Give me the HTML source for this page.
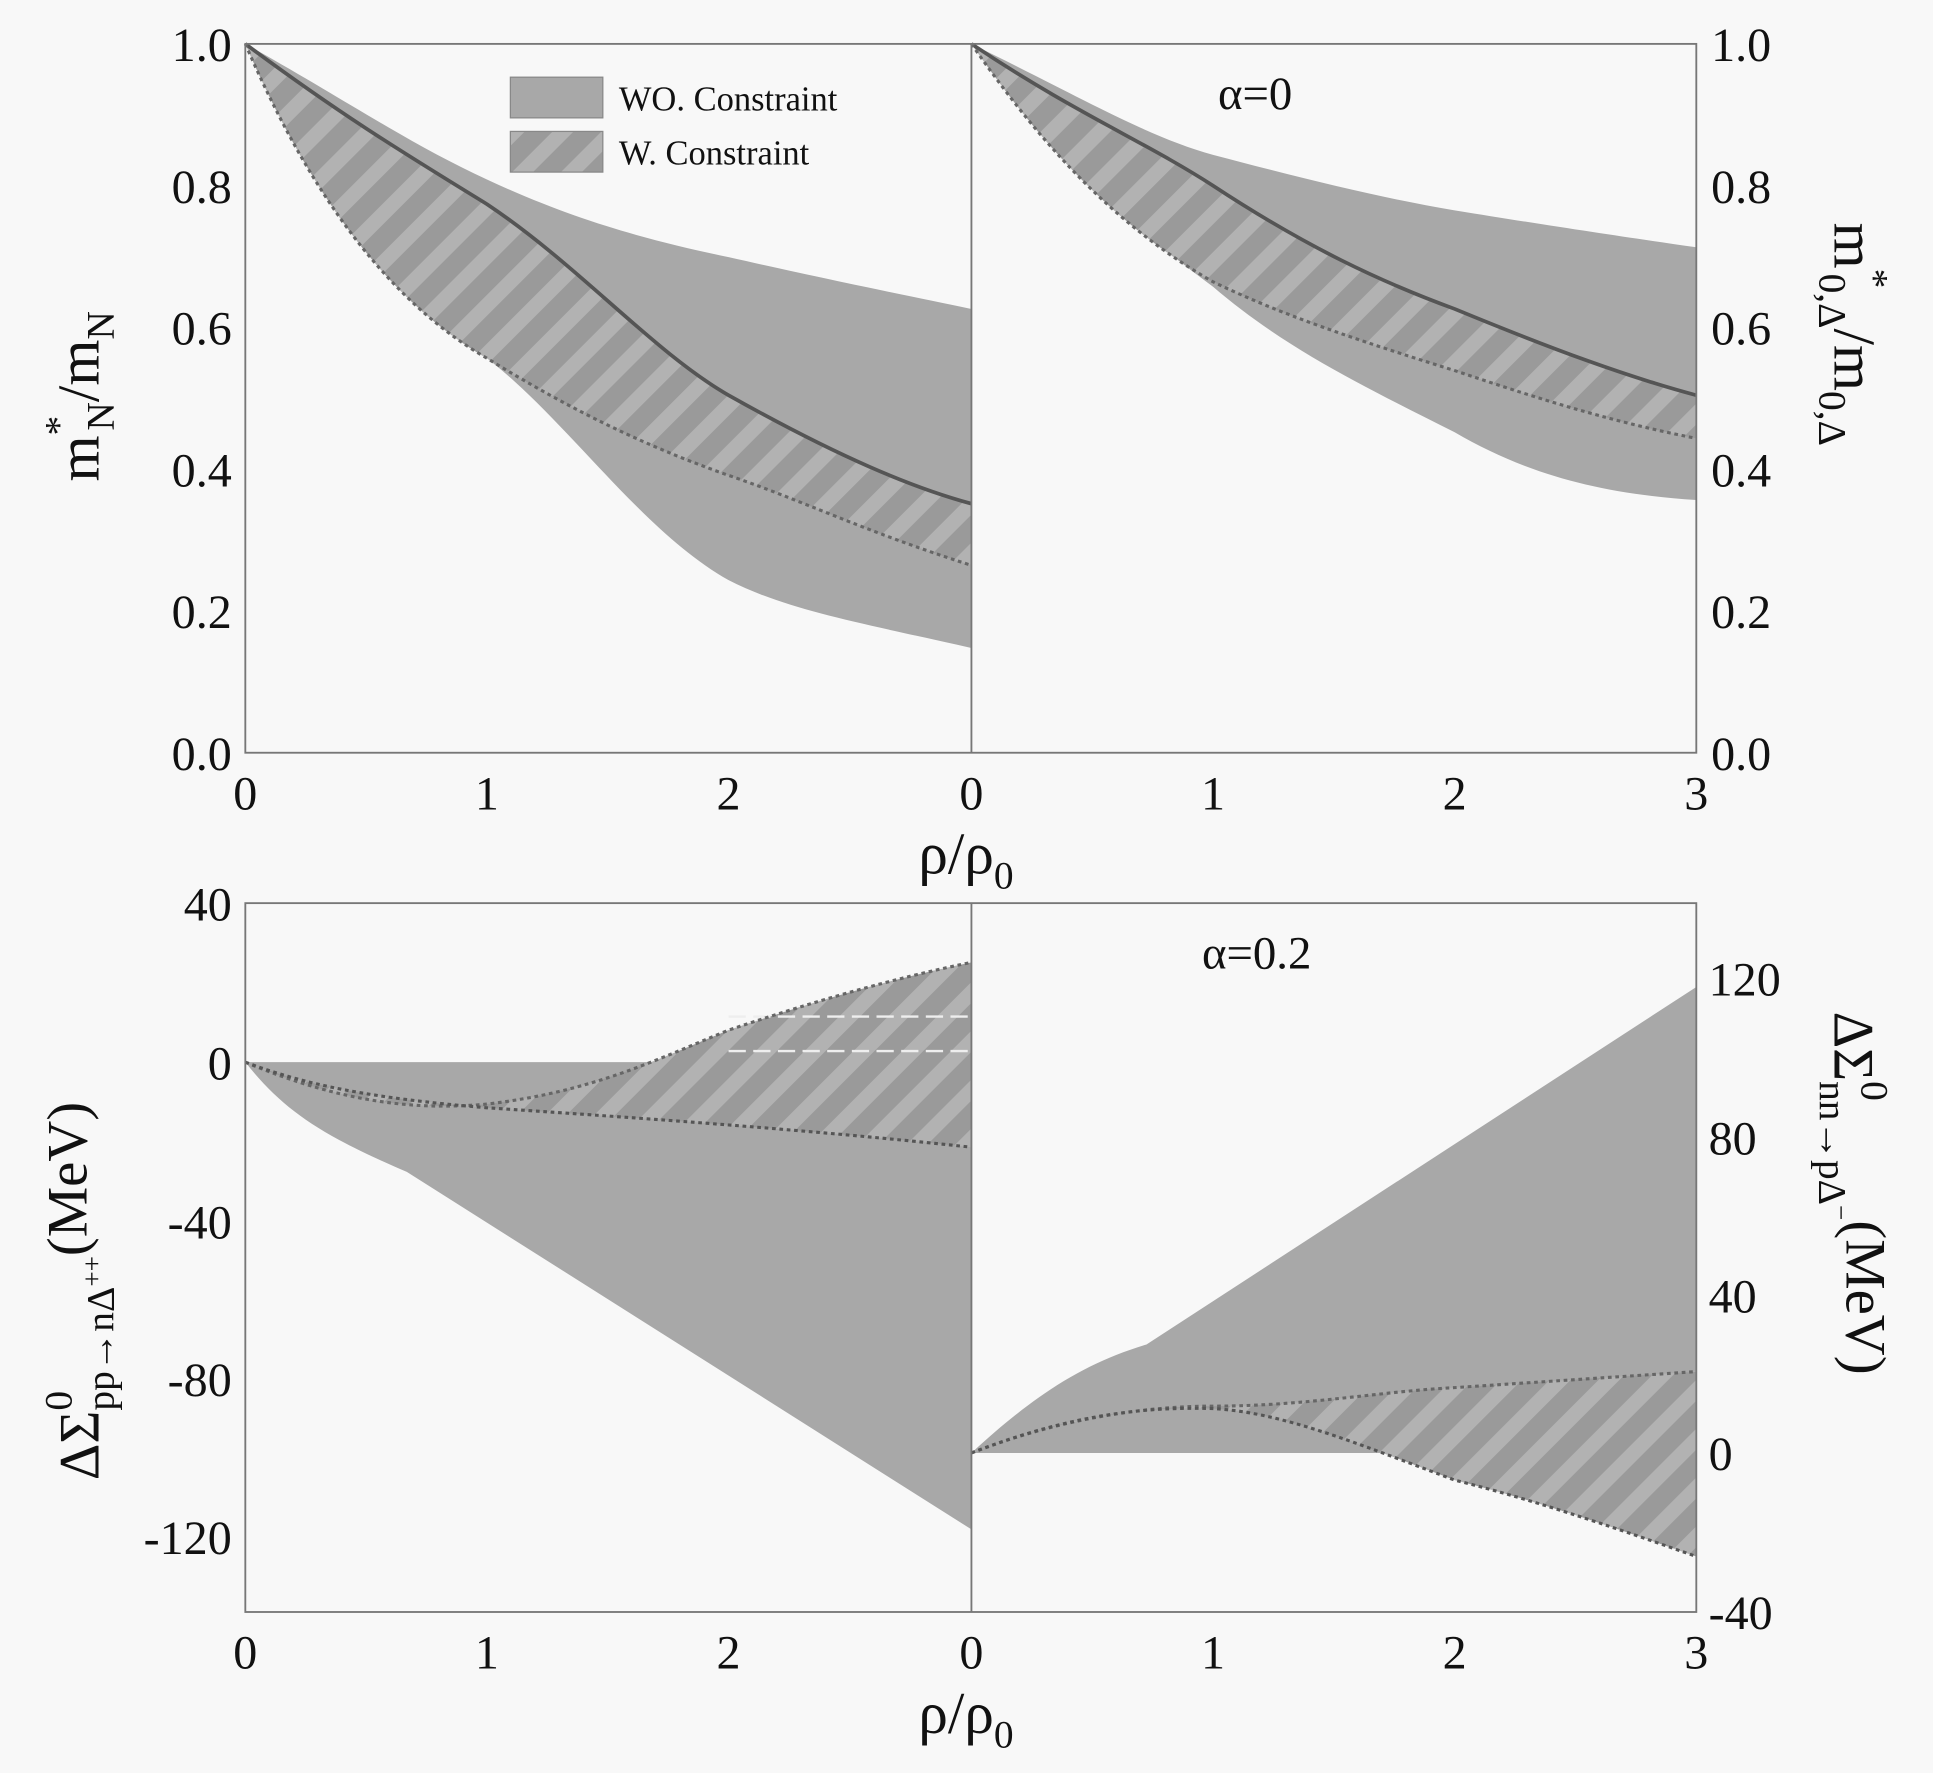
<!DOCTYPE html>
<html><head><meta charset="utf-8"><style>
html,body{margin:0;padding:0;background:#f8f8f8;}
svg{display:block;}
text{font-family:"Liberation Serif",serif;fill:#111;}
</style></head><body>
<svg width="1933" height="1773" viewBox="0 0 1568 1437" xmlns="http://www.w3.org/2000/svg">
<defs>
<pattern id="h" patternUnits="userSpaceOnUse" width="28" height="28" patternTransform="rotate(45)">
<rect width="28" height="28" fill="#9a9a9a"/>
<rect width="12" height="28" fill="#b2b2b2"/>
</pattern>
</defs>
<rect width="1568" height="1437" fill="#f8f8f8"/>

<!-- TOP LEFT -->
<path d="M199,35 C280,80 330,115 395,145 C470,180 530,195 591,208 C680,228 740,240 788,250 L788,525 C700,505 640,495 591,470 C520,430 460,340 395,290 C300,235 240,130 199,35Z" fill="#a8a8a8"/>
<path d="M199,35 C280,95 330,125 395,165 C470,215 530,285 591,320 C680,370 740,395 788,408 L788,458 C700,430 650,405 591,385 C520,360 460,330 395,290 C300,235 240,130 199,35Z" fill="url(#h)"/>
<path d="M199,35 C280,95 330,125 395,165 C470,215 530,285 591,320 C680,370 740,395 788,408" fill="none" stroke="#555" stroke-width="3"/>
<path d="M199,35 C240,130 300,235 395,290 C460,330 520,360 591,385 C650,405 700,430 788,458" fill="none" stroke="#666" stroke-width="2.5" stroke-dasharray="3,3"/>

<!-- TOP RIGHT -->
<path d="M788,35 C880,80 930,110 984,125 C1060,145 1120,160 1180,170 C1260,183 1320,192 1376,200 L1376,405 C1300,400 1240,385 1180,350 C1100,310 1040,280 984,232 C900,170 840,110 788,35Z" fill="#a8a8a8"/>
<path d="M788,35 C870,90 930,115 984,150 C1060,200 1120,228 1180,250 C1260,283 1320,305 1376,320 L1376,355 C1300,340 1240,320 1180,300 C1100,275 1040,255 984,228 C900,180 840,110 788,35Z" fill="url(#h)"/>
<path d="M788,35 C870,90 930,115 984,150 C1060,200 1120,228 1180,250 C1260,283 1320,305 1376,320" fill="none" stroke="#555" stroke-width="3"/>
<path d="M788,35 C840,110 900,180 984,228 C1040,255 1100,275 1180,300 C1240,320 1300,340 1376,355" fill="none" stroke="#666" stroke-width="2.5" stroke-dasharray="3,3"/>

<!-- BOTTOM LEFT -->
<path d="M199,861 L788,861 L788,1240 L330,950 C260,920 230,900 199,861Z" fill="#a8a8a8"/>
<path d="M199,861 C280,895 340,900 395,895 C480,885 530,860 591,835 C680,805 740,790 788,780 L788,930 C650,915 500,905 395,898 C300,890 250,880 199,861Z" fill="url(#h)"/>
<path d="M591,824 L788,824 M591,852 L788,852" stroke="#eee" stroke-width="2" stroke-dasharray="14,6"/>
<path d="M199,861 C280,895 340,900 395,895 C480,885 530,860 591,835 C680,805 740,790 788,780" fill="none" stroke="#666" stroke-width="2.5" stroke-dasharray="3,3"/>
<path d="M199,861 C250,880 300,890 395,898 C500,905 650,915 788,930" fill="none" stroke="#555" stroke-width="2.5" stroke-dasharray="3,3"/>

<!-- BOTTOM RIGHT -->
<path d="M788,1178 C840,1130 880,1105 930,1090 L1376,800 L1376,1112 L1180,1130 L1180,1178Z" fill="#a8a8a8"/>
<path d="M788,1178 C860,1150 930,1140 984,1140 C1060,1140 1120,1128 1180,1125 L1376,1112 L1376,1262 C1300,1235 1240,1215 1180,1200 C1100,1170 1040,1145 984,1142 C920,1140 860,1150 788,1178Z" fill="url(#h)"/>
<path d="M788,1178 C860,1150 930,1140 984,1140 C1060,1140 1120,1128 1180,1125 L1376,1112" fill="none" stroke="#666" stroke-width="2.5" stroke-dasharray="3,3"/>
<path d="M788,1178 C860,1150 920,1140 984,1142 C1040,1145 1100,1170 1180,1200 C1240,1215 1300,1235 1376,1262" fill="none" stroke="#555" stroke-width="2.5" stroke-dasharray="3,3"/>

<!-- frames -->
<g stroke="#777" stroke-width="1.5" fill="none">
<rect x="199" y="35" width="1177" height="575"/>
<line x1="788" y1="35" x2="788" y2="610"/>
<rect x="199" y="732" width="1177" height="575"/>
<line x1="788" y1="732" x2="788" y2="1307"/>
</g>

<!-- legend -->
<rect x="414" y="62" width="75" height="33" fill="#a8a8a8" stroke="#888"/>
<rect x="414" y="106" width="75" height="33" fill="url(#h)" stroke="#888"/>
<text x="502" y="89" font-size="28">WO. Constraint</text>
<text x="502" y="133" font-size="28">W. Constraint</text>
<text x="988" y="88" font-size="38">α=0</text>
<text x="975" y="785" font-size="38">α=0.2</text>

<!-- top ticks -->
<g font-size="39" text-anchor="end">
<text x="188" y="49">1.0</text><text x="188" y="164">0.8</text><text x="188" y="279">0.6</text>
<text x="188" y="394">0.4</text><text x="188" y="509">0.2</text><text x="188" y="624">0.0</text>
</g>
<g font-size="39" text-anchor="start">
<text x="1388" y="49">1.0</text><text x="1388" y="164">0.8</text><text x="1388" y="279">0.6</text>
<text x="1388" y="394">0.4</text><text x="1388" y="509">0.2</text><text x="1388" y="624">0.0</text>
</g>
<g font-size="39" text-anchor="middle">
<text x="199" y="656">0</text><text x="395" y="656">1</text><text x="591" y="656">2</text><text x="788" y="656">0</text>
<text x="984" y="656">1</text><text x="1180" y="656">2</text><text x="1376" y="656">3</text>
<text x="199" y="1353">0</text><text x="395" y="1353">1</text><text x="591" y="1353">2</text><text x="788" y="1353">0</text>
<text x="984" y="1353">1</text><text x="1180" y="1353">2</text><text x="1376" y="1353">3</text>
</g>
<g font-size="39" text-anchor="end">
<text x="188" y="746">40</text><text x="188" y="875">0</text><text x="188" y="1004">-40</text>
<text x="188" y="1132">-80</text><text x="188" y="1260">-120</text>
</g>
<g font-size="39" text-anchor="start">
<text x="1386" y="807">120</text><text x="1386" y="936">80</text><text x="1386" y="1064">40</text>
<text x="1386" y="1192">0</text><text x="1386" y="1321">-40</text>
</g>

<!-- axis titles -->
<text x="745" y="708" font-size="48">ρ/ρ<tspan font-size="32" dy="12">0</tspan></text>
<text x="745" y="1405" font-size="48">ρ/ρ<tspan font-size="32" dy="12">0</tspan></text>
<text transform="translate(80,390) rotate(-90)" font-size="48">m<tspan font-size="32" dy="-22">*</tspan><tspan font-size="32" dx="-12" dy="34">N</tspan><tspan dy="-12">/m</tspan><tspan font-size="32" dy="12">N</tspan></text>
<text transform="translate(1488,180) rotate(90)" font-size="48">m<tspan font-size="32" dy="-22">*</tspan><tspan font-size="32" dx="-12" dy="34">0,Δ</tspan><tspan dy="-12">/m</tspan><tspan font-size="32" dy="12">0,Δ</tspan></text>
<text transform="translate(80,1200) rotate(-90)" font-size="46">ΔΣ<tspan font-size="32" dy="-22">0</tspan><tspan font-size="32" dx="-16" dy="34">pp→nΔ<tspan dy="-10" font-size="22">++</tspan></tspan><tspan dy="-12">(MeV)</tspan></text>
<text transform="translate(1488,820) rotate(90)" font-size="46">ΔΣ<tspan font-size="32" dy="-22">0</tspan><tspan font-size="32" dx="-16" dy="34">nn→pΔ<tspan dy="-10" font-size="22">−</tspan></tspan><tspan dy="-12">(MeV)</tspan></text>
</svg>
</body></html>
